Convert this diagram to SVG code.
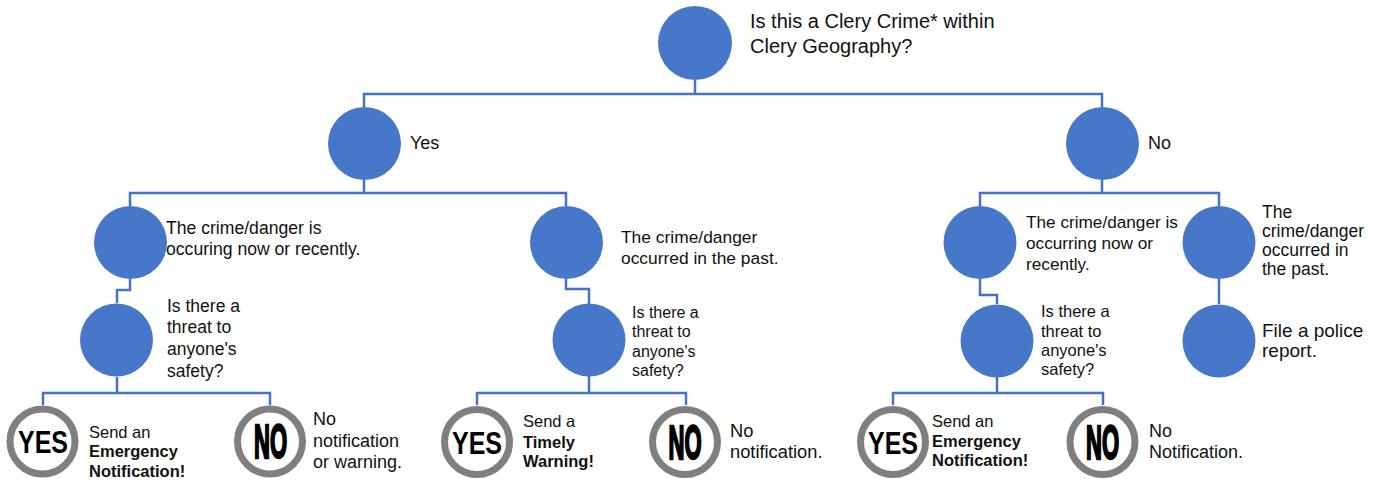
<svg xmlns="http://www.w3.org/2000/svg" width="1380" height="483" viewBox="0 0 1380 483">
<style>
.n{fill:#4677C8}
.c{fill:none;stroke:#4472C4;stroke-width:2.5}
.t{font-family:"Liberation Sans",Arial,sans-serif;fill:#111}
.b{font-weight:bold}
.ring{fill:#fff;stroke:#7f7f7f;stroke-width:7}
.yes{font-family:"Liberation Sans",Arial,sans-serif;font-weight:bold;font-size:32px;fill:#000}
.no{font-family:"Liberation Sans",Arial,sans-serif;font-weight:bold;font-size:48px;fill:#000;stroke:#000;stroke-width:2.5;text-anchor:middle}
</style>
<rect width="1380" height="483" fill="#fff"/>
<g id="connectors">
<path class="c" d="M695 80V94M364 107V94H1102V107"/>
<path class="c" d="M364 180V193M130 206V193H566V206"/>
<path class="c" d="M1102 180V193M980 206V193H1219V206"/>
<path class="c" d="M130 279V290H117V303"/>
<path class="c" d="M566 279V289H589V304"/>
<path class="c" d="M980 279V295H997V304"/>
<path class="c" d="M1219 279V304"/>
<path class="c" d="M117 377V393M43 405V393H270V405"/>
<path class="c" d="M589 376V393M477 405V393H686V405"/>
<path class="c" d="M997 377V393M893 405V393H1103V405"/>
</g>
<g id="root">
<circle class="n" cx="695" cy="43" r="37"/>
<text class="t" font-size="20"><tspan x="750" y="28">Is this a Clery Crime* within</tspan><tspan x="750" y="53">Clery Geography?</tspan></text>
</g>
<g id="yes">
<circle class="n" cx="364.5" cy="143.5" r="36.5"/>
<text class="t" font-size="18" x="410" y="149">Yes</text>
</g>
<g id="no">
<circle class="n" cx="1102.5" cy="143.5" r="36.5"/>
<text class="t" font-size="18" x="1148" y="149">No</text>
</g>
<g id="yes-now">
<circle class="n" cx="130.5" cy="242.5" r="36.5"/>
<text class="t" font-size="17.6"><tspan x="166" y="234">The crime/danger is</tspan><tspan x="166" y="255">occuring now or recently.</tspan></text>
</g>
<g id="yes-past">
<circle class="n" cx="566.5" cy="242.5" r="36.5"/>
<text class="t" font-size="17.4"><tspan x="621" y="243">The crime/danger</tspan><tspan x="621" y="264">occurred in the past.</tspan></text>
</g>
<g id="no-now">
<circle class="n" cx="980" cy="242.5" r="36.5"/>
<text class="t" font-size="17.2"><tspan x="1026" y="228">The crime/danger is</tspan><tspan x="1026" y="249">occurring now or</tspan><tspan x="1026" y="270">recently.</tspan></text>
</g>
<g id="no-past">
<circle class="n" cx="1219" cy="242.5" r="36.5"/>
<text class="t" font-size="17.5"><tspan x="1262" y="218">The</tspan><tspan x="1262" y="237">crime/danger</tspan><tspan x="1262" y="256">occurred in</tspan><tspan x="1262" y="275">the past.</tspan></text>
</g>
<g id="threat-1">
<circle class="n" cx="116.5" cy="340" r="36.5"/>
<text class="t" font-size="17.5"><tspan x="167" y="312">Is there a</tspan><tspan x="167" y="333">threat to</tspan><tspan x="167" y="355">anyone's</tspan><tspan x="167" y="377">safety?</tspan></text>
</g>
<g id="threat-2">
<circle class="n" cx="589" cy="340" r="36.5"/>
<text class="t" font-size="16"><tspan x="632" y="318">Is there a</tspan><tspan x="632" y="337">threat to</tspan><tspan x="632" y="357">anyone's</tspan><tspan x="632" y="376">safety?</tspan></text>
</g>
<g id="threat-3">
<circle class="n" cx="997" cy="341" r="36.5"/>
<text class="t" font-size="16.5"><tspan x="1041" y="317">Is there a</tspan><tspan x="1041" y="337">threat to</tspan><tspan x="1041" y="356">anyone's</tspan><tspan x="1041" y="375">safety?</tspan></text>
</g>
<g id="police">
<circle class="n" cx="1219" cy="341" r="36.5"/>
<text class="t" font-size="19"><tspan x="1262" y="337">File a police</tspan><tspan x="1262" y="357">report.</tspan></text>
</g>
<g id="yes-1">
<circle class="ring" cx="42.5" cy="441.5" r="32.5"/>
<text class="yes" x="18" y="453" textLength="50" lengthAdjust="spacingAndGlyphs">YES</text>
<text class="t" font-size="16.5"><tspan x="89" y="438">Send an</tspan><tspan x="89" y="457" class="b">Emergency</tspan><tspan x="89" y="477" class="b">Notification!</tspan></text>
</g>
<g id="no-1">
<circle class="ring" cx="270" cy="441.5" r="32.5"/>
<text class="no" transform="translate(270.5 458) scale(0.46 1)">NO</text>
<text class="t" font-size="18"><tspan x="313" y="425">No</tspan><tspan x="313" y="447">notification</tspan><tspan x="313" y="468">or warning.</tspan></text>
</g>
<g id="yes-2">
<circle class="ring" cx="477" cy="442" r="32.5"/>
<text class="yes" x="452" y="453.5" textLength="50" lengthAdjust="spacingAndGlyphs">YES</text>
<text class="t" font-size="16.5"><tspan x="523" y="427">Send a</tspan><tspan x="523" y="448" class="b">Timely</tspan><tspan x="523" y="467" class="b">Warning!</tspan></text>
</g>
<g id="no-2">
<circle class="ring" cx="685" cy="442" r="32.5"/>
<text class="no" transform="translate(685 458.5) scale(0.46 1)">NO</text>
<text class="t" font-size="18.3"><tspan x="730" y="437">No</tspan><tspan x="730" y="458">notification.</tspan></text>
</g>
<g id="yes-3">
<circle class="ring" cx="893" cy="442" r="32.5"/>
<text class="yes" x="868" y="453.5" textLength="50" lengthAdjust="spacingAndGlyphs">YES</text>
<text class="t" font-size="16.5"><tspan x="932" y="427">Send an</tspan><tspan x="932" y="447" class="b">Emergency</tspan><tspan x="932" y="466" class="b">Notification!</tspan></text>
</g>
<g id="no-3">
<circle class="ring" cx="1102.5" cy="442" r="32.5"/>
<text class="no" transform="translate(1102.5 458.5) scale(0.46 1)">NO</text>
<text class="t" font-size="18"><tspan x="1149" y="437">No</tspan><tspan x="1149" y="458">Notification.</tspan></text>
</g>
</svg>
